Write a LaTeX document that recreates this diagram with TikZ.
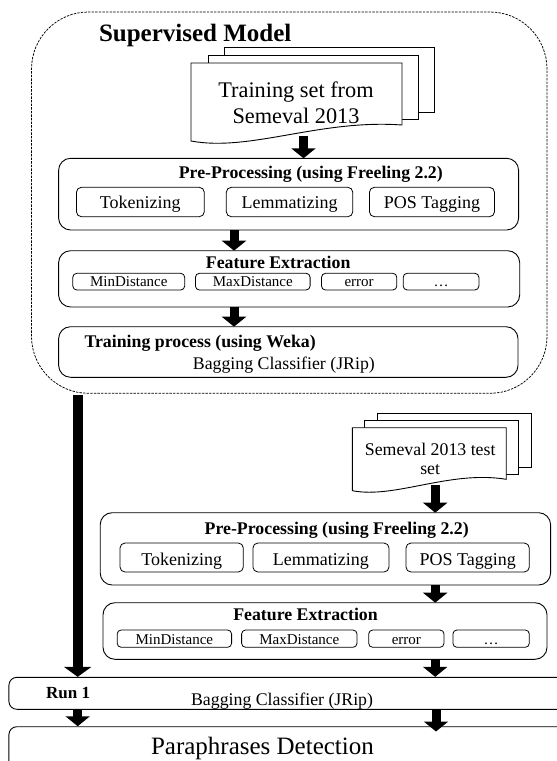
\documentclass[tikz,border=0pt]{standalone}
\usepackage{fontspec}
\setmainfont{Liberation Serif}
\usetikzlibrary{arrows.meta}
\begin{document}
\begin{tikzpicture}[x=1pt,y=-1pt,
  box/.style={draw, rounded corners=12pt, line width=0.9pt, inner sep=0pt, outer sep=0pt},
  subbox/.style={draw, rounded corners=5pt, line width=0.8pt, inner sep=0pt, outer sep=0pt},
  fsub/.style={draw, rounded corners=4pt, line width=0.8pt, inner sep=0pt, outer sep=0pt},
  dashbox/.style={draw, dash pattern=on 2.4pt off 1.2pt, line width=0.75pt, rounded corners=57pt, inner sep=0pt, outer sep=0pt},
  docline/.style={line width=0.9pt, line join=miter},
  blk/.style={line width=9pt, -{Triangle[length=10pt,width=24pt]}},
  blkL/.style={line width=10pt, -{Triangle[length=10pt,width=27pt]}},
  txt/.style={inner sep=0pt, outer sep=0pt},
  ttl/.style={txt, font=\bfseries\fontsize{17.8pt}{21pt}\selectfont},
  reg/.style={txt, font=\fontsize{17.8pt}{21pt}\selectfont},
  sm/.style={txt, font=\fontsize{15pt}{18pt}\selectfont},
]
\useasboundingbox (0,0) rectangle (557,761);
\clip (0,0) rectangle (557,761);

% ---------- Supervised model (dashed) ----------
\node[dashbox, minimum width=515.5pt, minimum height=381.3pt] (sup) at (289.25,202.65) {};
\node[txt, anchor=base west, font=\bfseries\fontsize{25pt}{30pt}\selectfont] (suptitle) at (99,41.5) {Supervised Model};

% training documents
\draw[docline] (402,119) -- (418,119) -- (418,55) -- (208,55) -- (208,63);
\draw[docline] (418,112) -- (434,112) -- (434,47) -- (224,47) -- (224,55);
\draw[docline, fill=white] (191,141) -- (191,63) -- (402,63) -- (402,125)
   .. controls (320,119) and (250,152) .. (191,141) -- cycle;
\node[txt, anchor=base, font=\fontsize{22.3pt}{26.3pt}\selectfont] (doc1) at (296,97)
   {\begin{tabular}[t]{@{}c@{}}Training set from\\ Semeval 2013\end{tabular}};
\coordinate (d1b) at (303.5,135.5);

% pre-processing 1
\node[box, minimum width=460pt, minimum height=71.7pt] (pre1) at (288.6,194.15) {};
\node[ttl, anchor=base] (pre1t) at (310.8,178.3) {Pre-Processing (using Freeling 2.2)};
\node[subbox, minimum width=127.9pt, minimum height=29.4pt] (tok1) at (140.35,202) {};
\node[subbox, minimum width=126.5pt, minimum height=29.4pt] (lem1) at (289.55,202) {};
\node[subbox, minimum width=125.1pt, minimum height=29.4pt] (pos1) at (431.95,202) {};
\node[reg, anchor=base, font=\fontsize{18pt}{21pt}\selectfont] (tok1t) at (140.35,208.3) {Tokenizing};
\node[reg, anchor=base, font=\fontsize{18pt}{21pt}\selectfont] (lem1t) at (289.55,208.3) {Lemmatizing};
\node[reg, anchor=base, font=\fontsize{18pt}{21pt}\selectfont] (pos1t) at (431.95,208.3) {POS Tagging};

% feature extraction 1
\node[box, minimum width=461.1pt, minimum height=56.3pt] (fe1) at (289.15,278.85) {};
\node[ttl, anchor=base] (fe1t) at (278.2,268) {Feature Extraction};
\node[fsub, minimum width=111.9pt, minimum height=16.7pt] (min1) at (128.75,281.65) {};
\node[fsub, minimum width=114.7pt, minimum height=16.7pt] (max1) at (252.75,281.65) {};
\node[fsub, minimum width=75.3pt, minimum height=16.7pt] (err1) at (359.15,281.65) {};
\node[fsub, minimum width=75.7pt, minimum height=16.7pt] (dot1) at (441.05,281.65) {};
\node[sm, anchor=base] (min1t) at (128.75,286.7) {MinDistance};
\node[sm, anchor=base] (max1t) at (252.75,286.7) {MaxDistance};
\node[sm, anchor=base] (err1t) at (359.15,286.7) {error};
\node[sm, anchor=base] (dot1t) at (441.05,286.7) {…};

% training process
\node[box, minimum width=459.4pt, minimum height=50.6pt] (tr1) at (288.3,352) {};
\node[ttl, anchor=base west] (tr1t) at (84.5,347) {Training process (using Weka)};
\node[reg, anchor=base west] (tr1c) at (192.9,369) {Bagging Classifier (JRip)};

% arrows inside supervised model
\coordinate (ax2) at (234,0);
\draw[blk] (d1b) -- (d1b |- pre1.north);
\draw[blk] (pre1.south -| ax2) -- (fe1.north -| ax2);
\draw[blk] (fe1.south -| ax2) -- (tr1.north -| ax2);

% ---------- test branch ----------
\draw[docline] (506.2,474.3) -- (518.7,474.3) -- (518.7,420.7) -- (364.8,420.7) -- (364.8,427.7);
\draw[docline] (518.7,467.3) -- (531.8,467.3) -- (531.8,413.3) -- (377.3,413.3) -- (377.3,420.7);
\draw[docline, fill=white] (352.4,490.7) -- (352.4,427.7) -- (506.2,427.7) -- (506.2,479.3)
   .. controls (450,470) and (395,499) .. (352.4,490.7) -- cycle;
\node[txt, anchor=base, font=\fontsize{17.8pt}{19.3pt}\selectfont] (doc2) at (430.2,455)
   {\begin{tabular}[t]{@{}c@{}}Semeval 2013 test\\ set\end{tabular}};
\coordinate (d2b) at (435.2,485);

% pre-processing 2
\node[box, minimum width=450.4pt, minimum height=72.3pt] (pre2) at (325.4,548.85) {};
\node[ttl, anchor=base] (pre2t) at (336.7,534) {Pre-Processing (using Freeling 2.2)};
\node[subbox, minimum width=123.3pt, minimum height=29pt] (tok2) at (181.65,557.5) {};
\node[subbox, minimum width=136.1pt, minimum height=29pt] (lem2) at (320.95,557.5) {};
\node[subbox, minimum width=123.3pt, minimum height=29pt] (pos2) at (467.65,557.5) {};
\node[reg, anchor=base, font=\fontsize{18pt}{21pt}\selectfont] (tok2t) at (181.65,565) {Tokenizing};
\node[reg, anchor=base, font=\fontsize{18pt}{21pt}\selectfont] (lem2t) at (320.95,565) {Lemmatizing};
\node[reg, anchor=base, font=\fontsize{18pt}{21pt}\selectfont] (pos2t) at (467.65,565) {POS Tagging};

% feature extraction 2
\node[box, minimum width=444pt, minimum height=56.6pt] (fe2) at (325,631) {};
\node[ttl, anchor=base] (fe2t) at (305.5,620.7) {Feature Extraction};
\node[fsub, minimum width=114.4pt, minimum height=17.3pt] (min2) at (174.4,638.65) {};
\node[fsub, minimum width=115.4pt, minimum height=17.3pt] (max2) at (299.3,638.65) {};
\node[fsub, minimum width=75.3pt, minimum height=17.3pt] (err2) at (406.35,638.65) {};
\node[fsub, minimum width=76.4pt, minimum height=17.3pt] (dot2) at (491.1,638.65) {};
\node[sm, anchor=base] (min2t) at (174.4,644) {MinDistance};
\node[sm, anchor=base] (max2t) at (299.3,644) {MaxDistance};
\node[sm, anchor=base] (err2t) at (406.35,644) {error};
\node[sm, anchor=base] (dot2t) at (491.1,644) {…};

% run 1 and detection
\node[draw, rounded corners=8pt, line width=0.9pt, inner sep=0pt, minimum width=611pt, minimum height=32pt] (run) at (314.4,693.3) {};
\node[txt, anchor=base west, font=\bfseries\fontsize{17pt}{20pt}\selectfont] (runt) at (46.2,698.3) {Run 1};
\node[reg, anchor=base west] (runc) at (191.1,705) {Bagging Classifier (JRip)};
\node[draw, rounded corners=8pt, line width=0.9pt, inner sep=0pt, minimum width=611pt, minimum height=93.3pt] (para) at (314.4,773.35) {};
\node[txt, anchor=base west, font=\fontsize{25pt}{30pt}\selectfont] (parat) at (151,754.5) {Paraphrases Detection};

% arrows of test branch
\coordinate (ax4) at (435.2,0);
\coordinate (axL) at (77.7,0);
\coordinate (a8e) at (436,731.5);
\draw[blk] (d2b) -- (d2b |- pre2.north);
\draw[blk] (pre2.south -| ax4) -- (fe2.north -| ax4);
\draw[blk] (fe2.south -| ax4) -- (run.north -| ax4);
\draw[blkL] ([yshift=-1.5pt]sup.south -| axL) -- (run.north -| axL);
\draw[blk] (run.south -| axL) -- (para.north -| axL);
\draw[blk] (run.south -| a8e) -- (a8e);
\end{tikzpicture}
\end{document}
